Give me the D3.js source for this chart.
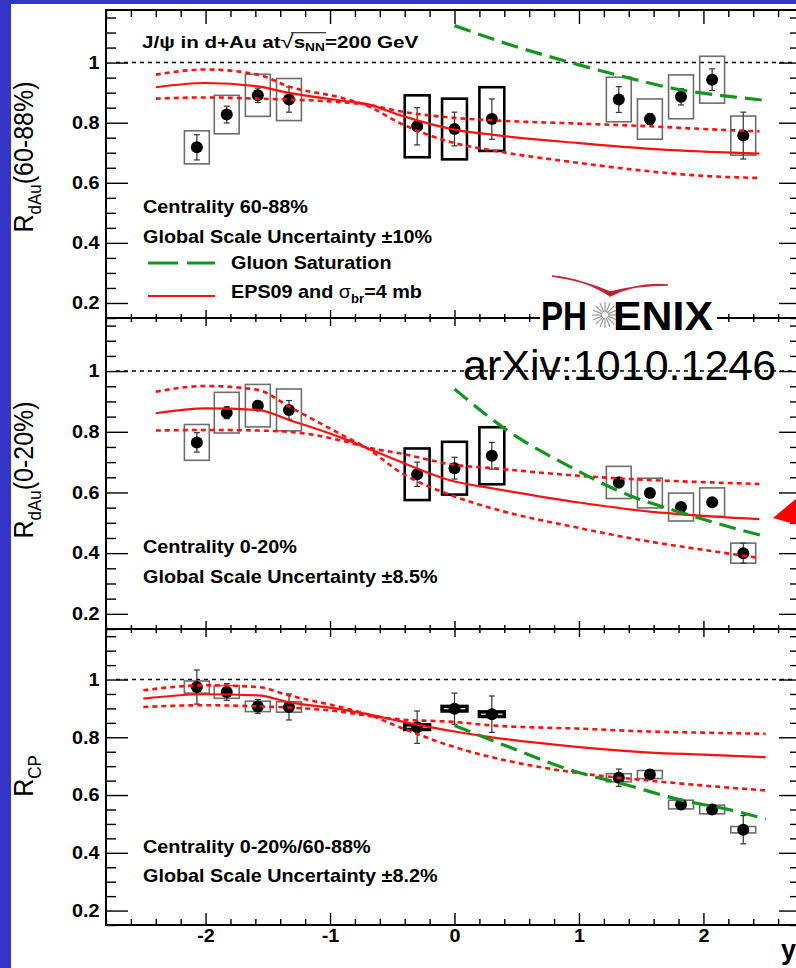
<!DOCTYPE html>
<html>
<head>
<meta charset="utf-8">
<script src="https://cdn.jsdelivr.net/npm/d3@7"></script>
<style>
  body { margin: 0; background: #3434c8; }
  svg { display: block; }
</style>
</head>
<body>
<svg id="chart" width="796" height="968"></svg>
<script>
// ---- data ----
const rapidity = [-2.07, -1.83, -1.58, -1.33, -0.30, 0.00, 0.30, 1.32, 1.57, 1.82, 2.07, 2.32];

const rdau6088 = [0.718, 0.827, 0.891, 0.877, 0.788, 0.779, 0.812, 0.877, 0.812, 0.886, 0.943, 0.757];
const stat6088 = [0.042, 0.028, 0.024, 0.042, 0.062, 0.056, 0.067, 0.043, 0.018, 0.027, 0.036, 0.078];
const sys6088  = [0.055, 0.064, 0.070, 0.070, 0.103, 0.101, 0.106, 0.074, 0.067, 0.073, 0.078, 0.065];

const rdau020 = [0.765, 0.863, 0.886, 0.872, 0.660, 0.680, 0.721, 0.633, 0.598, 0.552, 0.568, 0.400];
const stat020 = [0.032, 0.020, 0.014, 0.031, 0.040, 0.036, 0.044, 0.017, 0.008, 0.008, 0.008, 0.033];
const sys020  = [0.059, 0.067, 0.070, 0.069, 0.085, 0.087, 0.094, 0.053, 0.049, 0.046, 0.047, 0.033];

const rcp     = [0.974, 0.957, 0.907, 0.905, 0.835, 0.899, 0.880, 0.660, 0.671, 0.567, 0.550, 0.480];
const statCP  = [0.059, 0.029, 0.024, 0.045, 0.056, 0.054, 0.063, 0.030, 0.010, 0.008, 0.008, 0.049];
const sysCP   = [0.021, 0.022, 0.018, 0.018, 0.008, 0.008, 0.008, 0.014, 0.014, 0.015, 0.015, 0.011];

// EPS09 + sigma_br = 4 mb (central, and the two error curves)
const epsRap   = [-2.4, -2.0, -1.58, -1.33, -0.9, -0.7, -0.44, 0.0, 0.3, 1.0, 1.57, 2.0, 2.45];
const epsRapCP = [-2.5, -2.0, -1.58, -1.33, -0.9, -0.7, -0.44, 0.0, 0.3, 1.0, 1.57, 2.0, 2.5];
const eps6088  = [0.918, 0.932, 0.921, 0.899, 0.873, 0.862, 0.825, 0.777, 0.760, 0.732, 0.713, 0.704, 0.697];
const eps6088A = [0.960, 0.977, 0.960, 0.920, 0.882, 0.856, 0.799, 0.732, 0.708, 0.666, 0.638, 0.623, 0.616];
const eps6088B = [0.880, 0.884, 0.880, 0.877, 0.868, 0.860, 0.838, 0.816, 0.808, 0.797, 0.788, 0.779, 0.771];
const eps020   = [0.861, 0.877, 0.872, 0.839, 0.779, 0.746, 0.702, 0.636, 0.614, 0.567, 0.537, 0.523, 0.512];
const eps020A  = [0.932, 0.951, 0.938, 0.883, 0.789, 0.745, 0.668, 0.587, 0.548, 0.483, 0.438, 0.411, 0.384];
const eps020B  = [0.804, 0.806, 0.804, 0.800, 0.770, 0.748, 0.729, 0.691, 0.680, 0.655, 0.641, 0.634, 0.628];
const epsCP    = [0.934, 0.949, 0.945, 0.922, 0.896, 0.880, 0.856, 0.820, 0.800, 0.766, 0.747, 0.740, 0.731];
const epsCPA   = [0.963, 0.980, 0.974, 0.945, 0.903, 0.880, 0.835, 0.766, 0.731, 0.676, 0.650, 0.633, 0.616];
const epsCPB   = [0.905, 0.911, 0.907, 0.903, 0.888, 0.875, 0.862, 0.853, 0.841, 0.830, 0.820, 0.816, 0.812];

// gluon saturation
const gluonRap  = [0.0, 0.44, 0.9, 1.4, 1.78, 2.24, 2.5];
const gluon6088 = [1.123, 1.060, 1.004, 0.949, 0.912, 0.886, 0.874];
const gluon020  = [0.941, 0.800, 0.691, 0.591, 0.539, 0.483, 0.455];
const gluonCP   = [0.841, 0.766, 0.691, 0.633, 0.587, 0.546, 0.517];

const yMajor = [0.2, 0.4, 0.6, 0.8, 1.0];
const yTickLabels = ["0.2", "0.4", "0.6", "0.8", "1"];
const xMajor = [-2, -1, 0, 1, 2];
const xTickLabels = ["-2", "-1", "0", "1", "2"];

// ---- layout ----
const FONT = "'Liberation Sans', Arial, Helvetica, sans-serif";
const SX = 1.1;      // the picture is a bit wider than tall
const RED = "#ff1010", GREEN = "#14961e";
const left = 106, right = 803;

const svg = d3.select("#chart");
svg.append("rect").attr("x", 11).attr("y", 4).attr("width", 796).attr("height", 968).attr("fill", "white");

const x = d3.scaleLinear().domain([-2.8, 2.8]).range([left, right]);

const zip = (xs, ys) => xs.map((v, i) => [v, ys[i]]);

const panels = [
  {top: 10, bottom: 318, val: rdau6088, stat: stat6088, sys: sys6088,
   epsX: epsRap, eps: eps6088, epsA: eps6088A, epsB: eps6088B, glu: gluon6088,
   ttl: ["R", "dAu", "(60-88%)"], ttlY: 157, topTick: 14, botTick: 8,
   lines: [["Centrality 60-88%", 213], ["Global Scale Uncertainty \u00b110%", 243]]},
  {top: 318, bottom: 629, val: rdau020, stat: stat020, sys: sys020,
   epsX: epsRap, eps: eps020, epsA: eps020A, epsB: eps020B, glu: gluon020,
   ttl: ["R", "dAu", "(0-20%)"], ttlY: 470, topTick: 8, botTick: 8,
   lines: [["Centrality 0-20%", 553], ["Global Scale Uncertainty \u00b18.5%", 583]]},
  {top: 629, bottom: 925, val: rcp, stat: statCP, sys: sysCP,
   epsX: epsRapCP, eps: epsCP, epsA: epsCPA, epsB: epsCPB, glu: gluonCP,
   ttl: ["R", "CP", ""], ttlY: 776, topTick: 8, botTick: 12,
   lines: [["Centrality 0-20%/60-88%", 853], ["Global Scale Uncertainty \u00b18.2%", 882]]}
];

function addText(parent, tx, ty, size, weight, sx = SX) {
  return parent.append("text")
    .attr("transform", `translate(${tx},${ty}) scale(${sx},1)`)
    .attr("font-family", FONT).attr("font-size", size).attr("font-weight", weight)
    .attr("fill", "black");
}

function styleAxis(g) {
  g.select(".domain").remove();
  g.selectAll("line").attr("stroke", "black").attr("stroke-width", 1.4);
  g.selectAll("text").attr("font-family", FONT).attr("font-size", 18)
    .attr("font-weight", "bold").attr("fill", "black");
}

const yMinor = d3.range(0.15, 1.1751, 0.05).filter(v => !yMajor.some(m => Math.abs(m - v) < 1e-6));
const xMinor = d3.range(-2.8, 2.801, 0.2).filter(v => Math.abs(v - Math.round(v)) > 1e-6);

panels.forEach((p, pi) => {
  const y = d3.scaleLinear().domain([0.15, 1.175]).range([p.bottom, p.top]);
  const g = svg.append("g");

  // axes
  g.append("g").attr("transform", `translate(${left},0)`)
    .call(d3.axisLeft(y).tickValues(yMajor).tickFormat((d, i) => yTickLabels[i]).tickSize(-22).tickPadding(6))
    .call(styleAxis)
    .selectAll("text").attr("transform", `scale(${SX},1)`);
  g.append("g").attr("transform", `translate(${left},0)`)
    .call(d3.axisLeft(y).tickValues(yMinor).tickFormat("").tickSize(-10)).call(styleAxis);
  g.append("g").attr("transform", `translate(${right},0)`)
    .call(d3.axisRight(y).tickValues(yMajor).tickFormat("").tickSize(-24)).call(styleAxis);
  g.append("g").attr("transform", `translate(${right},0)`)
    .call(d3.axisRight(y).tickValues(yMinor).tickFormat("").tickSize(-13)).call(styleAxis);

  g.append("g").attr("transform", `translate(0,${p.top})`)
    .call(d3.axisTop(x).tickValues(xMajor).tickFormat("").tickSize(-p.topTick)).call(styleAxis);
  g.append("g").attr("transform", `translate(0,${p.top})`)
    .call(d3.axisTop(x).tickValues(xMinor).tickFormat("").tickSize(-p.topTick / 2)).call(styleAxis);
  const bx = g.append("g").attr("transform", `translate(0,${p.bottom})`)
    .call(d3.axisBottom(x).tickValues(xMajor)
      .tickFormat((d, i) => pi === 2 ? xTickLabels[i] : "").tickSize(-p.botTick).tickPadding(4))
    .call(styleAxis);
  bx.selectAll("text").attr("transform", `scale(${SX},1)`);
  g.append("g").attr("transform", `translate(0,${p.bottom})`)
    .call(d3.axisBottom(x).tickValues(xMinor).tickFormat("").tickSize(-p.botTick / 2)).call(styleAxis);

  // frame
  g.append("rect").attr("x", left).attr("y", p.top).attr("width", right - left)
    .attr("height", p.bottom - p.top).attr("fill", "none").attr("stroke", "black").attr("stroke-width", 2);

  // unity line
  g.append("line").attr("x1", left + 10).attr("x2", right).attr("y1", y(1)).attr("y2", y(1))
    .attr("stroke", "black").attr("stroke-width", 1.5).attr("stroke-dasharray", "4,4");

  // data points
  const pts = g.append("g");
  rapidity.forEach((r, i) => {
    const v = p.val[i], s = p.sys[i], e = p.stat[i];
    const mid = Math.abs(r) < 0.5;
    pts.append("rect")
      .attr("x", x(r - 0.1)).attr("width", x(r + 0.1) - x(r - 0.1))
      .attr("y", y(v + s)).attr("height", y(v - s) - y(v + s))
      .attr("fill", "none")
      .attr("stroke", mid ? "black" : "#6e6e6e")
      .attr("stroke-width", mid ? (pi === 2 ? 3.5 : 2.6) : 1.6);
    pts.append("line").attr("x1", x(r)).attr("x2", x(r)).attr("y1", y(v + e)).attr("y2", y(v - e))
      .attr("stroke", "#333").attr("stroke-width", 1.2);
    [v + e, v - e].forEach(c => {
      pts.append("line").attr("x1", x(r) - 3).attr("x2", x(r) + 3).attr("y1", y(c)).attr("y2", y(c))
        .attr("stroke", "#333").attr("stroke-width", 1.2);
    });
    pts.append("circle").attr("cx", x(r)).attr("cy", y(v)).attr("r", 6).attr("fill", "black");
  });

  // model curves
  const line = d3.line().x(d => x(d[0])).y(d => y(d[1])).curve(d3.curveMonotoneX);
  g.append("path").attr("d", line(zip(p.epsX, p.epsA))).attr("fill", "none")
    .attr("stroke", RED).attr("stroke-width", 2.6).attr("stroke-dasharray", "5,4");
  g.append("path").attr("d", line(zip(p.epsX, p.epsB))).attr("fill", "none")
    .attr("stroke", RED).attr("stroke-width", 2.6).attr("stroke-dasharray", "5,4");
  g.append("path").attr("d", line(zip(p.epsX, p.eps))).attr("fill", "none")
    .attr("stroke", RED).attr("stroke-width", 2.2);
  g.append("path").attr("d", line(zip(gluonRap, p.glu))).attr("fill", "none")
    .attr("stroke", GREEN).attr("stroke-width", 3.2).attr("stroke-dasharray", "17,8");

  // y title
  const t = svg.append("text")
    .attr("transform", `translate(33,${p.ttlY}) scale(${SX},1) rotate(-90)`)
    .attr("font-family", FONT).attr("font-size", 25).attr("text-anchor", "middle");
  t.append("tspan").text(p.ttl[0]);
  t.append("tspan").attr("font-size", 17).attr("dy", 7).text(p.ttl[1]);
  if (p.ttl[2]) t.append("tspan").attr("dy", -7).text(p.ttl[2]);

  // panel notes
  p.lines.forEach(([s, by]) => addText(svg, 143, by, 18, "bold").text(s));
});

// ---- title and legend of the top panel ----
const TSX = 1.25;
const title = addText(svg, 142, 48, 16.5, "bold", TSX);
title.append("tspan").text("J/\u03c8 in d+Au at");
title.append("tspan").attr("font-weight", "normal").attr("font-size", 19).text("\u221a");
title.append("tspan").text("s");
title.append("tspan").attr("font-size", 11).attr("dy", 3).text("NN");
title.append("tspan").attr("dy", -3).text("=200 GeV");
{
  const n = title.node();
  const a = n.getExtentOfChar(14), b = n.getExtentOfChar(17);
  svg.append("line")
    .attr("transform", `translate(142,48) scale(${TSX},1)`)
    .attr("x1", a.x + a.width * 0.8).attr("x2", b.x + b.width + 1)
    .attr("y1", a.y + 1.5).attr("y2", a.y + 1.5)
    .attr("stroke", "black").attr("stroke-width", 1);
}

svg.append("line").attr("x1", 148).attr("x2", 215).attr("y1", 263).attr("y2", 263)
  .attr("stroke", GREEN).attr("stroke-width", 3).attr("stroke-dasharray", "30,9");
addText(svg, 231, 269, 18, "bold").text("Gluon Saturation");
svg.append("line").attr("x1", 148).attr("x2", 215).attr("y1", 296).attr("y2", 296)
  .attr("stroke", RED).attr("stroke-width", 2.2);
const eps = addText(svg, 231, 298, 18, "bold");
eps.append("tspan").text("EPS09 and ");
eps.append("tspan").attr("font-weight", "normal").text("\u03c3");
eps.append("tspan").attr("font-size", 12).attr("dy", 5).text("br");
eps.append("tspan").attr("dy", -5).text("=4 mb");

// ---- PHENIX logo ----
const logo = svg.append("g");
logo.append("rect").attr("x", 540).attr("y", 275).attr("width", 177).attr("height", 56).attr("fill", "white");
logo.append("path").attr("d", "M552,276 Q585,279 610,296 Q638,282 668,285 Q638,285 610,292 Q585,281 552,276 Z")
  .attr("fill", "#b3202c").attr("stroke", "#c42a36").attr("stroke-width", 1.5);
d3.range(16).forEach(k => {
  const a = k * Math.PI / 8;
  logo.append("line")
    .attr("x1", 605 + 3 * Math.cos(a)).attr("y1", 315 + 3 * Math.sin(a))
    .attr("x2", 605 + 13 * Math.cos(a)).attr("y2", 315 + 13 * Math.sin(a))
    .attr("stroke", "#9a9a9a").attr("stroke-width", 1.2);
});
logo.append("text").attr("x", 541).attr("y", 330).attr("font-family", FONT).attr("font-weight", "bold")
  .attr("font-size", 40).attr("textLength", 46).attr("lengthAdjust", "spacingAndGlyphs").text("PH");
logo.append("text").attr("x", 613).attr("y", 330).attr("font-family", FONT).attr("font-weight", "bold")
  .attr("font-size", 40).attr("textLength", 100).attr("lengthAdjust", "spacingAndGlyphs").text("ENIX");

svg.append("text").attr("x", 463).attr("y", 380).attr("font-family", FONT).attr("font-size", 43)
  .attr("fill", "black").text("arXiv:1010.1246");

// red marker arrow on the right of the middle panel
svg.append("polygon").attr("points", "773,518 798,497 798,525").attr("fill", "#ff0000");

// x axis title
addText(svg, 781, 959, 27, "bold", 1.0).text("y");
</script>
</body>
</html>
